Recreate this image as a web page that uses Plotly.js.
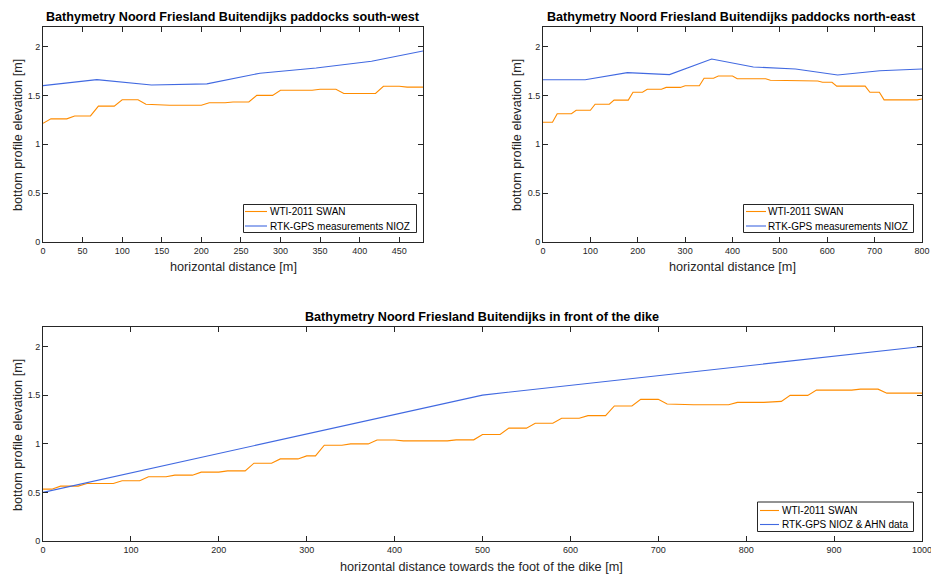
<!DOCTYPE html>
<html>
<head>
<meta charset="utf-8">
<script src="https://cdn.plot.ly/plotly-3.0.1.min.js"></script>
<style>html,body{margin:0;padding:0;background:#fff;}#chart{width:931px;height:576px;}</style>
</head>
<body>
<div id="chart"></div>
<script>
// ---- data: paddocks south-west ----
const swSwanX = [0,10,30,40,60,70,90,100,120,130,160,200,210,230,240,260,270,290,300,340,350,370,380,420,430,450,460,480];
const swSwanY = [1.215,1.26,1.26,1.29,1.29,1.39,1.39,1.455,1.455,1.41,1.40,1.40,1.425,1.425,1.433,1.433,1.50,1.50,1.553,1.553,1.563,1.563,1.52,1.52,1.594,1.594,1.585,1.585];
const swGpsX = [0,68,137,207,274,345,415,480];
const swGpsY = [1.60,1.662,1.607,1.618,1.727,1.78,1.85,1.955];

// ---- data: paddocks north-east ----
const neSwanX = [0,20,30,60,70,100,110,140,150,180,190,210,220,250,260,290,300,330,340,360,370,400,410,470,480,545,555,580,590,610,620,680,690,710,720,790,800];
const neSwanY = [1.225,1.225,1.312,1.312,1.348,1.348,1.41,1.41,1.452,1.452,1.532,1.532,1.563,1.563,1.582,1.582,1.599,1.599,1.676,1.676,1.698,1.698,1.671,1.671,1.655,1.655,1.648,1.648,1.634,1.634,1.595,1.595,1.532,1.532,1.454,1.454,1.464];
const neGpsX = [0,89,178,267,356,444,533,622,711,800];
const neGpsY = [1.661,1.661,1.733,1.713,1.873,1.791,1.771,1.709,1.753,1.771];

// ---- data: in front of the dike ----
const dkSwanX = [0,10,20,40,50,80,90,110,120,140,150,170,180,200,210,230,240,260,270,290,300,310,320,340,350,370,380,400,410,460,470,490,500,520,530,550,560,580,590,610,620,640,650,670,680,700,710,740,780,790,820,840,850,870,880,920,930,950,960,1000];
const dkSwanY = [0.533,0.533,0.564,0.564,0.591,0.591,0.619,0.619,0.66,0.66,0.677,0.677,0.708,0.708,0.721,0.721,0.80,0.80,0.844,0.844,0.875,0.875,0.985,0.985,0.998,0.998,1.039,1.039,1.029,1.029,1.04,1.04,1.095,1.095,1.16,1.16,1.211,1.211,1.262,1.262,1.289,1.289,1.388,1.388,1.456,1.456,1.408,1.401,1.401,1.425,1.425,1.435,1.497,1.497,1.551,1.551,1.561,1.561,1.52,1.52];
const dkGpsX = [0,500,1000];
const dkGpsY = [0.5,1.5,2.0];

// ---- labels ----
const titles = [
  "Bathymetry Noord Friesland Buitendijks paddocks south-west",
  "Bathymetry Noord Friesland Buitendijks paddocks north-east",
  "Bathymetry Noord Friesland Buitendijks in front of the dike"
];
const xLabels = ["horizontal distance [m]", "horizontal distance [m]", "horizontal distance towards the foot of the dike [m]"];
const yLabel = "bottom profile elevation [m]";
const swanName = "WTI-2011 SWAN";
const gpsNames = ["RTK-GPS measurements NIOZ", "RTK-GPS measurements NIOZ", "RTK-GPS NIOZ & AHN data"];

const ORANGE = "#FF8C00";
const BLUE = "#4169E1";
const FONT = "Liberation Sans, Arial, sans-serif";
const AX = "#262626";
const W = 931, H = 576;

function px(x) { return x / W; }
function py(y) { return 1 - y / H; }

const traces = [
  {x: swSwanX, y: swSwanY, xaxis: "x", yaxis: "y", name: swanName, line: {color: ORANGE, width: 1.1}},
  {x: swGpsX, y: swGpsY, xaxis: "x", yaxis: "y", name: gpsNames[0], line: {color: BLUE, width: 1.1}},
  {x: neSwanX, y: neSwanY, xaxis: "x2", yaxis: "y2", name: swanName, line: {color: ORANGE, width: 1.1}},
  {x: neGpsX, y: neGpsY, xaxis: "x2", yaxis: "y2", name: gpsNames[1], line: {color: BLUE, width: 1.1}},
  {x: dkSwanX, y: dkSwanY, xaxis: "x3", yaxis: "y3", name: swanName, line: {color: ORANGE, width: 1.1}},
  {x: dkGpsX, y: dkGpsY, xaxis: "x3", yaxis: "y3", name: gpsNames[2], line: {color: BLUE, width: 1.1}}
].map(t => Object.assign({type: "scatter", mode: "lines", hoverinfo: "skip", showlegend: false}, t));

function xax(domain, range, dtick, anchor) {
  return {
    domain: domain, range: range, dtick: dtick, tick0: 0, anchor: anchor,
    showline: true, mirror: "ticks", linecolor: AX, linewidth: 1,
    ticks: "inside", ticklen: 5, tickcolor: AX, tickwidth: 1,
    showgrid: false, zeroline: false, ticklabeloverflow: "allow",
    tickfont: {family: FONT, size: 9, color: AX}
  };
}
function yax(domain, anchor) {
  return {
    domain: domain, range: [0, 2.2], dtick: 0.5, tick0: 0, anchor: anchor,
    showline: true, mirror: "ticks", linecolor: AX, linewidth: 1,
    ticks: "inside", ticklen: 5, tickcolor: AX, tickwidth: 1,
    showgrid: false, zeroline: false,
    tickfont: {family: FONT, size: 9, color: AX}
  };
}

const shapes = [];
const annotations = [];

function text(t, x, y, size, opts) {
  annotations.push(Object.assign({
    text: t, x: px(x), y: py(y), xref: "paper", yref: "paper", showarrow: false,
    xanchor: "center", yanchor: "middle", font: {family: FONT, size: size, color: AX}
  }, opts || {}));
}

// legend boxes (decoration, drawn in paper space)
function legendBox(x0, y0, x1, y1, lineX0, lineX1, textX, rowYs, names, colors) {
  shapes.push({type: "rect", xref: "paper", yref: "paper", x0: px(x0), x1: px(x1), y0: py(y0), y1: py(y1),
    line: {color: AX, width: 1}, fillcolor: "#fff", layer: "above"});
  rowYs.forEach((ry, i) => {
    shapes.push({type: "line", xref: "paper", yref: "paper", x0: px(lineX0), x1: px(lineX1), y0: py(ry), y1: py(ry),
      line: {color: colors[i], width: 1.1}, layer: "above"});
    text(names[i], textX, ry, 10, {xanchor: "left", font: {family: FONT, size: 10, color: "#000"}});
  });
}

legendBox(243.5, 204.5, 416.5, 232.5, 245, 267, 268, [211.5, 226], [swanName, gpsNames[0]], [ORANGE, BLUE]);
legendBox(743.5, 204.5, 913.5, 232.5, 746, 766, 766, [211.5, 226], [swanName, gpsNames[1]], [ORANGE, BLUE]);
legendBox(757.5, 502, 913.5, 531.5, 760, 779, 780, [510.5, 524.5], [swanName, gpsNames[2]], [ORANGE, BLUE]);

// titles
text("<b>" + titles[0] + "</b>", 233, 16.5, 12.6, {font: {family: FONT, size: 12.6, color: "#000"}});
text("<b>" + titles[1] + "</b>", 731, 16.5, 12.6, {font: {family: FONT, size: 12.6, color: "#000"}});
text("<b>" + titles[2] + "</b>", 482, 316.5, 12.6, {font: {family: FONT, size: 12.6, color: "#000"}});
// axis labels
text(xLabels[0], 233, 267, 12.7);
text(xLabels[1], 732, 267, 12.7);
text(xLabels[2], 482, 567, 12.7);
text(yLabel, 18, 135, 12.7, {textangle: -90});
text(yLabel, 517, 135, 12.7, {textangle: -90});
text(yLabel, 18, 435, 12.7, {textangle: -90});

const layout = {
  width: W, height: H,
  margin: {l: 0, r: 0, t: 0, b: 0},
  paper_bgcolor: "#fff", plot_bgcolor: "#fff",
  font: {family: FONT},
  showlegend: false,
  xaxis: xax([px(43), px(423)], [0, 480], 50, "y"),
  yaxis: yax([py(242), py(27)], "x"),
  xaxis2: xax([px(543), px(922)], [0, 800], 100, "y2"),
  yaxis2: yax([py(242), py(27)], "x2"),
  xaxis3: xax([px(43), px(922)], [0, 1000], 100, "y3"),
  yaxis3: yax([py(541), py(327)], "x3"),
  shapes: shapes,
  annotations: annotations
};

Plotly.newPlot("chart", traces, layout, {staticPlot: true, displayModeBar: false});
</script>
</body>
</html>
